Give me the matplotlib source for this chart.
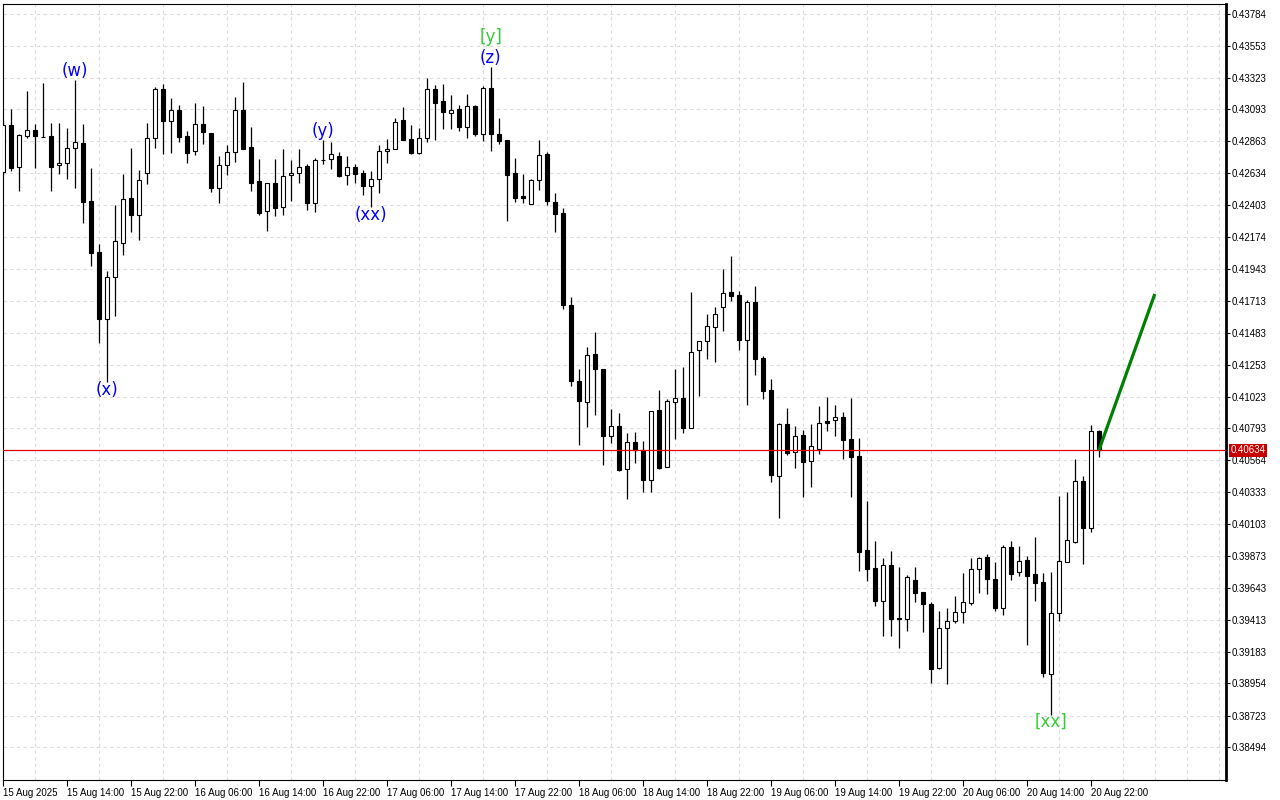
import pandas as pd
import matplotlib.pyplot as plt
import matplotlib.transforms as mtransforms

# hourly bars, first bar 15 Aug 2025 06:00
start_time = '2025-08-15 06:00'

opens = [0.42644, 0.42981, 0.42676, 0.42899, 0.42943, 0.42896, 0.42901, 0.42690, 0.42705, 0.42813,
         0.42851, 0.42431, 0.42063, 0.41580, 0.41883, 0.42132, 0.42454, 0.42330, 0.42633, 0.42885,
         0.43238, 0.43007, 0.43087, 0.42901, 0.42791, 0.42986, 0.42923, 0.42524, 0.42690, 0.42784,
         0.43087, 0.42820, 0.42575, 0.42359, 0.42560, 0.42390, 0.42618, 0.42633, 0.42685, 0.42421,
         0.42728, 0.42733, 0.42755, 0.42622, 0.42676, 0.42633, 0.42543, 0.42589, 0.42791, 0.42806,
         0.43015, 0.42878, 0.42781, 0.42889, 0.43238, 0.43152, 0.43065, 0.43094, 0.42968, 0.43118,
         0.42914, 0.43245, 0.42914, 0.42870, 0.42635, 0.42469, 0.42409, 0.42582, 0.42772, 0.42428,
         0.42346, 0.41683, 0.41135, 0.40986, 0.41330, 0.41224, 0.40738, 0.40811, 0.40498, 0.40693,
         0.40635, 0.40423, 0.40924, 0.40515, 0.40981, 0.41012, 0.40798, 0.41356, 0.41421, 0.41527,
         0.41666, 0.41775, 0.41755, 0.41433, 0.41705, 0.41301, 0.41070, 0.40452, 0.40825, 0.40621,
         0.40746, 0.40556, 0.40647, 0.40844, 0.40852, 0.40873, 0.40715, 0.40594, 0.39916, 0.39787,
         0.39551, 0.39808, 0.39426, 0.39421, 0.39700, 0.39612, 0.39525, 0.39068, 0.39352, 0.39402,
         0.39467, 0.39537, 0.39777, 0.39866, 0.39708, 0.39500, 0.39938, 0.39756, 0.39842, 0.39741,
         0.39684, 0.39020, 0.39464, 0.39832, 0.39976, 0.40414, 0.40077, 0.40772]
highs = [0.43017, 0.43094, 0.42916, 0.43226, 0.42988, 0.43284, 0.42995, 0.42995, 0.42957, 0.43305,
         0.42988, 0.42669, 0.42123, 0.41928, 0.42402, 0.42627, 0.42815, 0.42656, 0.42993, 0.43257,
         0.43276, 0.43175, 0.43125, 0.42937, 0.43139, 0.43116, 0.42923, 0.42755, 0.42834, 0.43180,
         0.43289, 0.42966, 0.42733, 0.42565, 0.42736, 0.42806, 0.42728, 0.42806, 0.42697, 0.42743,
         0.42870, 0.42860, 0.42784, 0.42757, 0.42702, 0.42656, 0.42647, 0.42834, 0.42878, 0.43029,
         0.43113, 0.42979, 0.42957, 0.43320, 0.43269, 0.43274, 0.43199, 0.43123, 0.43204, 0.43125,
         0.43264, 0.43397, 0.43029, 0.42870, 0.42743, 0.42627, 0.42591, 0.42873, 0.42788, 0.42493,
         0.42382, 0.41741, 0.41219, 0.41380, 0.41488, 0.41224, 0.40931, 0.40902, 0.40758, 0.40765,
         0.40702, 0.40917, 0.41070, 0.41003, 0.41222, 0.41236, 0.41777, 0.41423, 0.41618, 0.41669,
         0.41945, 0.42036, 0.41784, 0.41719, 0.41820, 0.41315, 0.41149, 0.40832, 0.40940, 0.40811,
         0.40782, 0.40825, 0.40955, 0.41020, 0.40962, 0.40909, 0.41015, 0.40724, 0.40272, 0.39981,
         0.39859, 0.39909, 0.39794, 0.39734, 0.39792, 0.39614, 0.39539, 0.39477, 0.39498, 0.39585,
         0.39751, 0.39859, 0.39868, 0.39888, 0.39828, 0.39953, 0.39981, 0.39945, 0.39875, 0.40010,
         0.39749, 0.39758, 0.40306, 0.40335, 0.40570, 0.40450, 0.40818, 0.40782]
lows = [0.42620, 0.42651, 0.42507, 0.42885, 0.42673, 0.42892, 0.42507, 0.42630, 0.42589, 0.42524,
        0.42276, 0.41966, 0.41411, 0.41130, 0.41604, 0.42046, 0.42211, 0.42152, 0.42555, 0.42817,
        0.42772, 0.42781, 0.42860, 0.42709, 0.42767, 0.42842, 0.42500, 0.42421, 0.42622, 0.42716,
        0.42808, 0.42507, 0.42330, 0.42219, 0.42322, 0.42330, 0.42435, 0.42565, 0.42368, 0.42353,
        0.42702, 0.42661, 0.42604, 0.42548, 0.42560, 0.42476, 0.42392, 0.42488, 0.42705, 0.42806,
        0.42875, 0.42774, 0.42772, 0.42860, 0.42875, 0.42950, 0.42950, 0.42937, 0.42889, 0.42901,
        0.42867, 0.42795, 0.42844, 0.42291, 0.42428, 0.42416, 0.42409, 0.42510, 0.42404, 0.42211,
        0.41656, 0.41099, 0.40674, 0.40805, 0.40890, 0.40532, 0.40690, 0.40484, 0.40282, 0.40546,
        0.40337, 0.40337, 0.40503, 0.40513, 0.40719, 0.40762, 0.40798, 0.41027, 0.41296, 0.41274,
        0.41498, 0.41714, 0.41361, 0.40964, 0.41178, 0.41007, 0.40407, 0.40149, 0.40604, 0.40510,
        0.40301, 0.40373, 0.40611, 0.40777, 0.40741, 0.40575, 0.40301, 0.39767, 0.39695, 0.39515,
        0.39299, 0.39299, 0.39208, 0.39335, 0.39544, 0.39327, 0.38960, 0.39061, 0.38950, 0.39392,
        0.39392, 0.39522, 0.39609, 0.39601, 0.39479, 0.39450, 0.39702, 0.39731, 0.39232, 0.39549,
        0.38999, 0.38729, 0.39405, 0.39832, 0.39965, 0.39818, 0.40048, 0.40589]
closes = [0.42981, 0.42669, 0.42906, 0.42943, 0.42899, 0.42896, 0.42680, 0.42705, 0.42813, 0.42858,
          0.42428, 0.42060, 0.41580, 0.41883, 0.42142, 0.42445, 0.42330, 0.42582, 0.42885, 0.43238,
          0.43012, 0.43087, 0.42896, 0.42781, 0.42986, 0.42928, 0.42524, 0.42690, 0.42784, 0.43087,
          0.42810, 0.42565, 0.42348, 0.42560, 0.42380, 0.42613, 0.42633, 0.42676, 0.42421, 0.42728,
          0.42728, 0.42769, 0.42615, 0.42676, 0.42630, 0.42543, 0.42591, 0.42791, 0.42806, 0.43005,
          0.42875, 0.42781, 0.42889, 0.43238, 0.43142, 0.43072, 0.43091, 0.42968, 0.43116, 0.42914,
          0.43245, 0.42914, 0.42863, 0.42622, 0.42457, 0.42457, 0.42584, 0.42764, 0.42435, 0.42341,
          0.41685, 0.41137, 0.40993, 0.41320, 0.41219, 0.40741, 0.40811, 0.40493, 0.40693, 0.40635,
          0.40423, 0.40917, 0.40508, 0.40989, 0.41010, 0.40798, 0.41344, 0.41423, 0.41529, 0.41618,
          0.41767, 0.41750, 0.41433, 0.41705, 0.41296, 0.41065, 0.40459, 0.40825, 0.40618, 0.40736,
          0.40553, 0.40664, 0.40830, 0.40834, 0.40873, 0.40712, 0.40589, 0.39904, 0.39782, 0.39551,
          0.39808, 0.39417, 0.39417, 0.39720, 0.39609, 0.39524, 0.39061, 0.39352, 0.39405, 0.39467,
          0.39539, 0.39777, 0.39857, 0.39710, 0.39500, 0.39938, 0.39746, 0.39835, 0.39731, 0.39681,
          0.39032, 0.39460, 0.39835, 0.39986, 0.40414, 0.40077, 0.40772, 0.40634]

price_ticks = [0.43784, 0.43553, 0.43323, 0.43093, 0.42863, 0.42634, 0.42403, 0.42174,
               0.41943, 0.41713, 0.41483, 0.41253, 0.41023, 0.40793, 0.40564, 0.40333,
               0.40103, 0.39873, 0.39643, 0.39413, 0.39183, 0.38954, 0.38723, 0.38494]
last_price = 0.40634

# projected move (green line)
forecast_bars = [137, 144]
forecast_prices = [0.40634, 0.41762]

# wave marks
wave_texts = ['(w)', '(x)', '(y)', '(xx)', '(z)', '[y]', '[xx]']
wave_bars = [9, 13, 40, 46, 61, 61, 131]
wave_prices = [0.43370, 0.41070, 0.42937, 0.42332, 0.43464, 0.43615, 0.38676]
wave_colors = ['#0000ff', '#0000ff', '#0000ff', '#0000ff', '#0000ff', '#32cd32', '#32cd32']

n = len(opens)
idx = list(range(n))
times = pd.date_range(start_time, periods=n, freq='h')

axis_font = 'Liberation Sans'

fig = plt.figure(figsize=(12.8, 8), dpi=100)
ax = fig.add_axes([3 / 1280, 1 - 780 / 800, 1223 / 1280, 776 / 800])

# wicks
ax.vlines(idx, lows, highs, color='black', linewidth=0.9, zorder=2)
# bodies
for i in idx:
    o, c = opens[i], closes[i]
    face = 'white' if c >= o else 'black'
    h = abs(c - o)
    if h < 0.00001:
        h = 0.00001
    ax.bar(i, h, bottom=min(o, c), width=0.55, color=face,
           edgecolor='black', linewidth=0.8, zorder=3)

ax.axhline(last_price, color='#e00000', linewidth=0.9, zorder=4)
ax.plot(forecast_bars, forecast_prices, color='#008000', linewidth=2.3,
        solid_capstyle='butt', zorder=5)

for t, b, p, col in zip(wave_texts, wave_bars, wave_prices, wave_colors):
    ax.text(b, p, t, color=col, fontsize=12, ha='center', va='center', zorder=6)

ax.set_xlim(0.04, 152.9)
ax.set_ylim(0.38258, 0.43853)

# axes styling in terminal look
ax.yaxis.tick_right()
ax.set_yticks(price_ticks)
ax.set_yticklabels(['%.5f' % v for v in price_ticks], fontfamily=axis_font)
major = list(range(0, n, 8))
ax.set_xticks(major)
labels = []
for k in major:
    if k == 0:
        labels.append(times[k].strftime('%d %b %Y'))
    else:
        labels.append(times[k].strftime('%d %b %H:%M'))
ax.set_xticklabels(labels, fontfamily=axis_font)
for lab in ax.get_xticklabels():
    lab.set_horizontalalignment('left')
ax.set_xticks(list(range(0, 153, 4)), minor=True)

ax.grid(axis='y', color='#dcdcdc', linestyle=(0, (3, 3)), linewidth=0.8)
ax.grid(axis='x', which='minor', color='#dcdcdc', linestyle=(0, (3, 3)), linewidth=0.8)
ax.set_axisbelow(True)

ax.tick_params(axis='y', which='major', length=3, width=0.8, labelsize=7, pad=1, colors='black')
ax.tick_params(axis='x', which='major', length=4, width=0.8, labelsize=7, pad=2, colors='black')
ax.tick_params(axis='x', which='minor', length=0)

for side in ['left', 'top', 'bottom']:
    ax.spines[side].set_linewidth(0.8)
ax.spines['right'].set_linewidth(2)

trans = mtransforms.blended_transform_factory(ax.transAxes, ax.transData)
ax.text(1.0035, last_price, '%.5f' % last_price, transform=trans, fontsize=7,
        fontfamily=axis_font, color='white', ha='left', va='center',
        bbox=dict(boxstyle='square,pad=0.15', fc='#c80000', ec='none'), zorder=10)

fig.savefig('out.png', dpi=100, facecolor='white')
